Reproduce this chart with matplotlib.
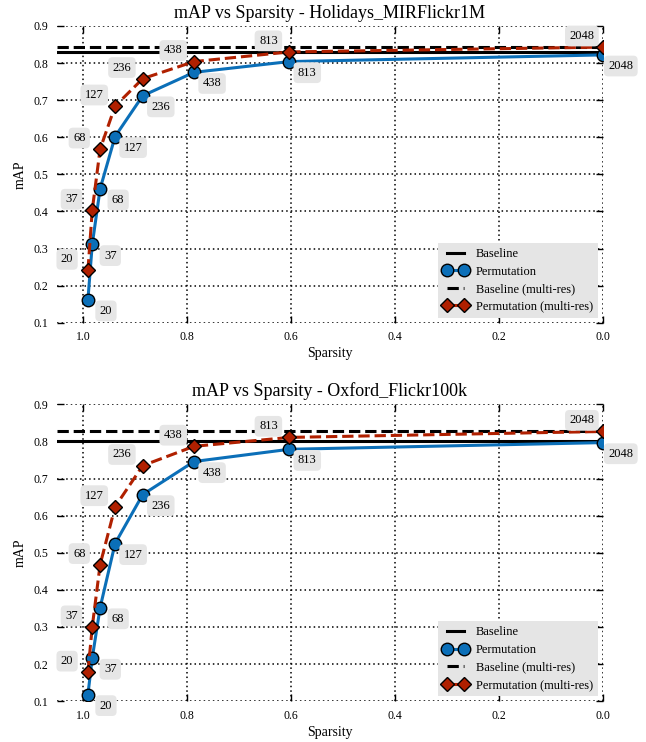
import matplotlib
matplotlib.use("Agg")
import matplotlib.pyplot as plt

# ── Dados ───────────────────────────────────────────────────────────────────
dims = [20, 37, 68, 127, 236, 438, 813, 2048]
sparsity = [1 - d / 2048 for d in dims]

hol_perm = [0.162, 0.311, 0.461, 0.602, 0.712, 0.775, 0.804, 0.822]
hol_multi = [0.241, 0.403, 0.568, 0.684, 0.758, 0.804, 0.830, 0.843]
hol_base = 0.829
hol_base_multi = 0.842

oxf_perm = [0.118, 0.216, 0.352, 0.525, 0.657, 0.746, 0.779, 0.797]
oxf_multi = [0.178, 0.300, 0.468, 0.624, 0.735, 0.787, 0.811, 0.827]
oxf_base = 0.801
oxf_base_multi = 0.827

x_ticks = [1.0, 0.8, 0.6, 0.4, 0.2, 0.0]
y_ticks = [0.1, 0.2, 0.3, 0.4, 0.5, 0.6, 0.7, 0.8, 0.9]

# ── Estilo ──────────────────────────────────────────────────────────────────
BLUE = "#0b6fb8"
RED = "#b02000"
LABEL_BOX = dict(boxstyle="round,pad=0.35", fc="#e6e6e6", ec="none")

plt.rcParams.update({
    "font.family": ["Liberation Serif", "DejaVu Serif"],
    "figure.dpi": 100,
})


def panel(ax, title, perm, multi, base, base_multi):
    ax.axhline(base, color="black", lw=2.2, label="Baseline", zorder=2)
    ax.plot(sparsity, perm, "-o", color=BLUE, lw=2.2, ms=9, mec="black",
            mew=1, label="Permutation", zorder=3)
    ax.axhline(base_multi, color="black", lw=2.2, ls="--",
               label="Baseline (multi-res)", zorder=2)
    ax.plot(sparsity, multi, "--D", color=RED, lw=2.2, ms=7.5, mec="black",
            mew=1, label="Permutation (multi-res)", zorder=4)

    for x, y, d in zip(sparsity, perm, dims):
        ax.annotate(str(d), (x, y), xytext=(13, -8), textcoords="offset points",
                    ha="center", va="center", fontsize=9, bbox=LABEL_BOX,
                    zorder=6)
    for x, y, d in zip(sparsity, multi, dims):
        ax.annotate(str(d), (x, y), xytext=(-15, 8), textcoords="offset points",
                    ha="center", va="center", fontsize=9, bbox=LABEL_BOX,
                    zorder=6)

    ax.set_xlim(1.05, 0.0)
    ax.set_ylim(0.1, 0.9)
    ax.set_xticks(x_ticks)
    ax.set_yticks(y_ticks)
    ax.set_xticklabels([f"{v:.1f}" for v in x_ticks])
    ax.set_yticklabels([f"{v:.1f}" for v in y_ticks])
    for s in ax.spines.values():
        s.set_visible(False)
    ax.grid(True, color="black", ls=(0, (1, 2)), lw=1.1)
    ax.tick_params(direction="in", top=True, right=True, length=5, width=1,
                   labelsize=8.5, pad=6)
    ax.set_title(title, fontsize=13, pad=6)
    ax.set_xlabel("Sparsity", fontsize=10, labelpad=3)
    ax.set_ylabel("mAP", fontsize=10, labelpad=5)

    leg = ax.legend(loc="lower right", fontsize=9, numpoints=2,
                    handlelength=2.0, facecolor="#e5e5e5", edgecolor="none",
                    framealpha=1, fancybox=False, borderaxespad=0.4,
                    labelspacing=0.45, borderpad=0.4, handletextpad=0.6)
    leg.set_zorder(7)


fig = plt.figure(figsize=(6.46, 7.42))
ax1 = fig.add_axes([0.088, 0.565, 0.845, 0.400])
ax2 = fig.add_axes([0.088, 0.055, 0.845, 0.400])

panel(ax1, "mAP vs Sparsity - Holidays_MIRFlickr1M",
      hol_perm, hol_multi, hol_base, hol_base_multi)
panel(ax2, "mAP vs Sparsity - Oxford_Flickr100k",
      oxf_perm, oxf_multi, oxf_base, oxf_base_multi)

fig.savefig("out.png", dpi=100)
